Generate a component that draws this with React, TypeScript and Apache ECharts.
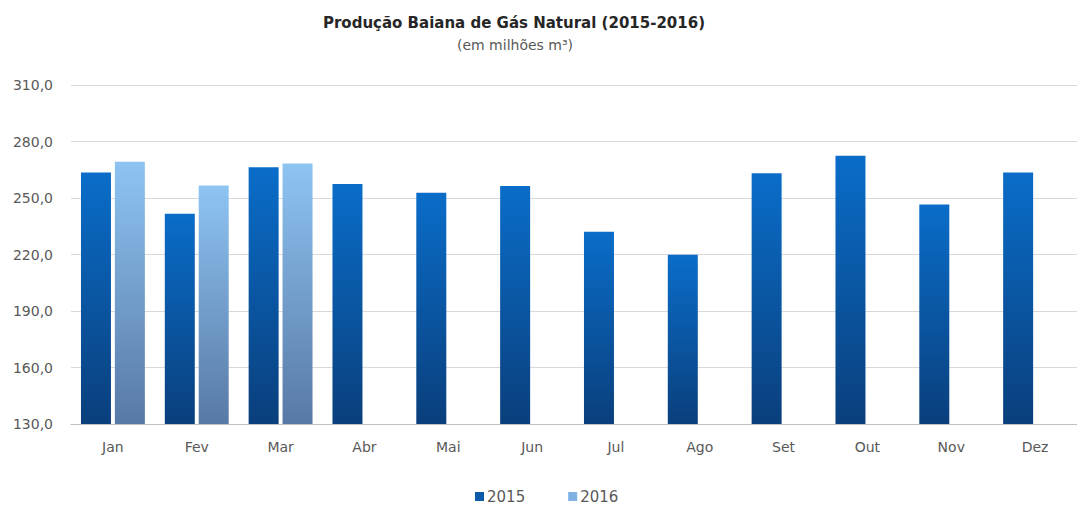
import React, { useEffect, useRef } from "react";
import * as echarts from "echarts";

const categories = ["Jan", "Fev", "Mar", "Abr", "Mai", "Jun", "Jul", "Ago", "Set", "Out", "Nov", "Dez"];
const values2015 = [263.6, 241.7, 266.3, 257.4, 252.8, 256.4, 232.1, 219.9, 263.1, 272.5, 246.6, 263.6];
const values2016: (number | null)[] = [269.3, 256.6, 268.3, null, null, null, null, null, null, null, null, null];
const seriesNames = ["2015", "2016"];
const titleText = "Produção Baiana de Gás Natural (2015-2016)";
const subtitleText = "(em milhões m³)";
const yMin = 130;
const yMax = 310;
const yInterval = 30;

const FONT = "DejaVu Sans";

export default function App() {
  const ref = useRef<HTMLDivElement>(null);
  useEffect(() => {
    if (!ref.current) return;
    const chart = echarts.init(ref.current, undefined, { renderer: "svg" });
    const grad = (top: string, bottom: string) =>
      new echarts.graphic.LinearGradient(0, 0, 0, 1, [
        { offset: 0, color: top },
        { offset: 1, color: bottom },
      ]);
    chart.setOption({
      animation: false,
      backgroundColor: "#ffffff",
      graphic: [
        {
          type: "text",
          x: 514,
          y: 15,
          style: {
            text: titleText,
            fontFamily: FONT,
            fontSize: 15,
            fontWeight: "bold",
            fill: "#262626",
            textAlign: "center",
          },
        },
        {
          type: "text",
          x: 515,
          y: 38,
          style: {
            text: subtitleText,
            fontFamily: FONT,
            fontSize: 14,
            fill: "#595959",
            textAlign: "center",
          },
        },
      ],
      legend: {
        data: [
          { name: seriesNames[0], itemStyle: { color: "#0B5BAA" } },
          { name: seriesNames[1], itemStyle: { color: "#7FB1E3" } },
        ],
        left: 475,
        top: 489,
        padding: 0,
        icon: "rect",
        itemWidth: 9,
        itemHeight: 9,
        itemGap: 43,
        textStyle: { fontFamily: FONT, fontSize: 15, color: "#595959", padding: [0, 0, 0, -2] },
      },
      grid: { left: 71, top: 85, width: 1020, height: 339 },
      xAxis: {
        type: "category",
        data: categories,
        axisTick: { show: false },
        axisLine: { lineStyle: { color: "#bfbfbf", width: 1 } },
        axisLabel: { fontFamily: FONT, fontSize: 14, color: "#595959", margin: 16 },
      },
      yAxis: {
        type: "value",
        min: yMin,
        max: yMax,
        interval: yInterval,
        axisLine: { show: false },
        axisTick: { show: false },
        splitLine: { lineStyle: { color: "#d9d9d9", width: 1 } },
        axisLabel: {
          fontFamily: FONT,
          fontSize: 14,
          color: "#595959",
          margin: 18,
          formatter: (v: number) => v.toFixed(1).replace(".", ","),
        },
      },
      series: [
        {
          name: seriesNames[0],
          type: "bar",
          data: values2015,
          barWidth: 30,
          barGap: "13%",
          itemStyle: { color: grad("#0A6DC9", "#0A3F7C") },
        },
        {
          name: seriesNames[1],
          type: "bar",
          data: values2016,
          barWidth: 30,
          itemStyle: { color: grad("#8EC4F2", "#5879A6") },
        },
      ],
    });
    return () => chart.dispose();
  }, []);
  return <div ref={ref} style={{ position: "fixed", left: 0, top: 0, width: 1077, height: 506 }} />;
}
